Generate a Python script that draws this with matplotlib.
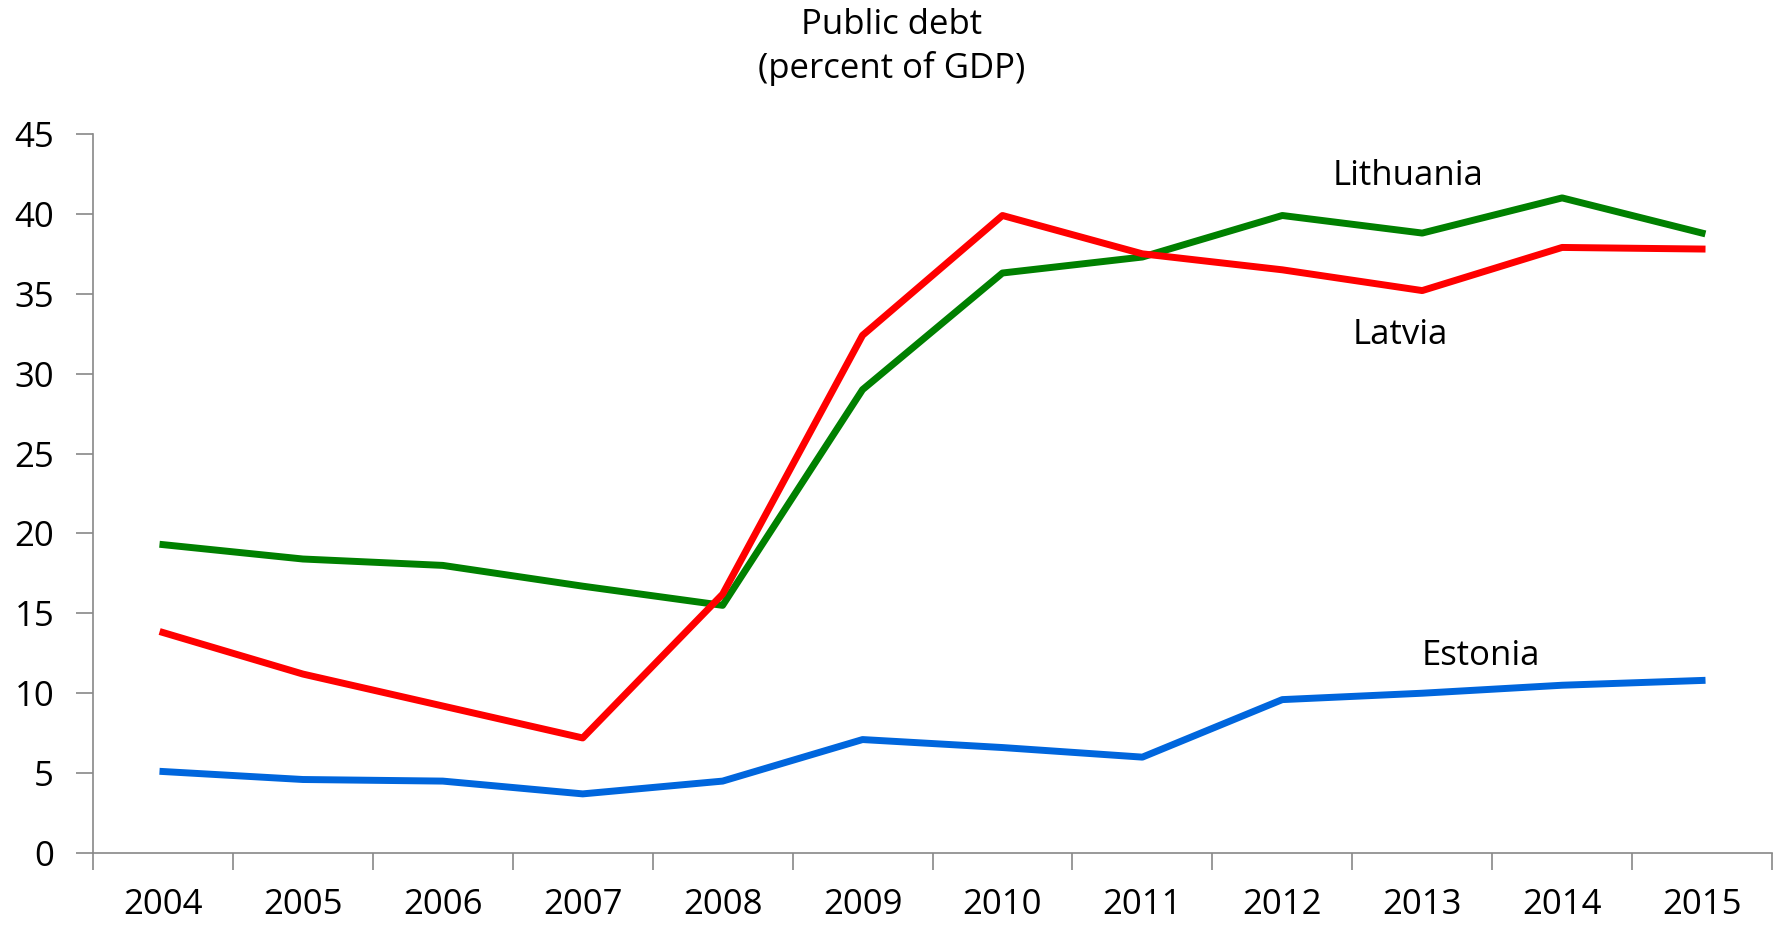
import numpy as np
import matplotlib.pyplot as plt

plt.rcParams['font.family'] = ['Open Sans', 'DejaVu Sans']

years = ['2004', '2005', '2006', '2007', '2008', '2009', '2010', '2011',
         '2012', '2013', '2014', '2015']
lithuania = [19.3, 18.4, 18.0, 16.7, 15.5, 29.0, 36.3, 37.3, 39.9, 38.8, 41.0, 38.8]
latvia = [13.8, 11.2, 9.2, 7.2, 16.2, 32.4, 39.9, 37.5, 36.5, 35.2, 37.9, 37.8]
estonia = [5.1, 4.6, 4.5, 3.7, 4.5, 7.1, 6.6, 6.0, 9.6, 10.0, 10.5, 10.8]

fig = plt.figure(figsize=(17.79, 9.25), dpi=100)
ax = fig.add_axes([93/1779, 1 - 853/925, (1772-93)/1779, (853-134)/925])

x = np.arange(len(years))
ax.plot(x, lithuania, color='#008000', lw=5)
ax.plot(x, latvia, color='#ff0000', lw=5)
ax.plot(x, estonia, color='#0066dd', lw=5)

ax.set_xlim(-0.5, len(years) - 0.5)
ax.set_ylim(0, 45)
ax.set_yticks(range(0, 46, 5))
ax.set_xticks(x)
ax.set_xticklabels(years)
ax.set_xticks(np.arange(-0.5, len(years)), minor=True)
ax.tick_params(axis='x', which='major', length=0, pad=25, labelsize=25)
ax.tick_params(axis='x', which='minor', length=12, width=1.2, color='#888888')
ax.tick_params(axis='y', length=12, width=1.2, color='#888888', labelsize=25, pad=16)
for s in ['top', 'right']:
    ax.spines[s].set_visible(False)
for s in ['left', 'bottom']:
    ax.spines[s].set_color('#888888')
    ax.spines[s].set_linewidth(1.2)

ax.text(8.90, 42.4, 'Lithuania', fontsize=25, ha='center', va='center')
ax.text(8.84, 32.4, 'Latvia', fontsize=25, ha='center', va='center')
ax.text(9.42, 12.35, 'Estonia', fontsize=25, ha='center', va='center')

fig.text(892/1779, 1 - 47/925, 'Public debt\n(percent of GDP)', fontsize=25,
         ha='center', va='center', linespacing=1.3)

fig.savefig('out.png', dpi=100)
